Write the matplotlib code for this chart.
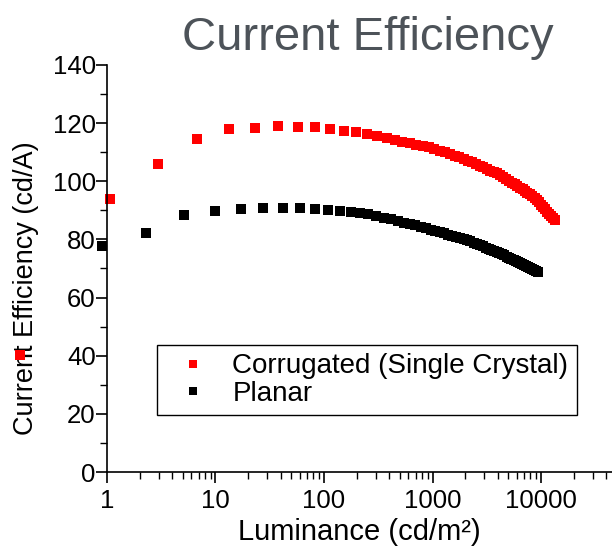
import matplotlib
matplotlib.use('Agg')
import matplotlib.pyplot as plt
from matplotlib.ticker import FixedLocator, FuncFormatter, NullFormatter

plt.rcParams['font.family'] = ['Liberation Sans', 'DejaVu Sans']

# luminance (cd/m2) and current efficiency (cd/A)
corr_lum = [0.158, 1.07, 2.95, 6.7, 13.3, 23, 37.6, 57.5, 82.6, 113, 152, 197, 248, 307, 378, 450,
            527, 614, 709, 812, 923, 1043, 1171, 1307, 1452, 1606, 1769, 1942, 2123, 2313, 2514,
            2725, 2946, 3177, 3417, 3668, 3927, 4198, 4481, 4772, 5077, 5391, 5713, 6048, 6397,
            6752, 7126, 7506, 7891, 8295, 8720, 9142, 9590, 10030, 10490, 10960, 11460, 11960,
            12470, 12990, 13540]
corr_eff = [40.2, 93.9, 105.8, 114.4, 117.9, 118.3, 119.1, 118.7, 118.5, 117.9, 117.4, 116.9, 116.3,
            115.6, 114.8, 114.2, 113.6, 113.1, 112.6, 112.1, 111.7, 111.2, 110.5, 109.9, 109.3,
            108.7, 108.2, 107.7, 107.1, 106.5, 105.9, 105.3, 104.8, 104.2, 103.7, 103.2, 102.7,
            102.2, 101.5, 100.8, 100.2, 99.5, 98.9, 98.3, 97.7, 97.2, 96.6, 96.0, 95.5, 95.0,
            94.3, 93.5, 92.7, 91.9, 91.1, 90.4, 89.6, 88.9, 88.1, 87.4, 86.7]

planar_lum = [0.9, 2.29, 5.15, 9.9, 17.2, 27.5, 42.3, 60, 83, 109, 141, 176, 215, 256, 303, 356,
              414, 476, 544, 617, 696, 780, 869, 963, 1064, 1170, 1281, 1400, 1523, 1651, 1788,
              1931, 2081, 2237, 2394, 2560, 2739, 2917, 3106, 3298, 3496, 3708, 3921, 4136, 4365,
              4603, 4849, 5092, 5342, 5611, 5880, 6163, 6440, 6729, 7033, 7337, 7654, 7978, 8307,
              8663, 8993, 9356]
planar_eff = [77.7, 82.3, 88.4, 89.8, 90.5, 90.9, 90.9, 90.7, 90.5, 90.2, 89.9, 89.5, 89.2, 88.8,
              88.1, 87.5, 86.9, 86.3, 85.8, 85.3, 84.8, 84.3, 83.8, 83.4, 82.9, 82.5, 82.1, 81.6,
              81.2, 80.8, 80.5, 80.1, 79.8, 79.3, 78.9, 78.4, 78.0, 77.6, 77.2, 76.8, 76.4, 76.0,
              75.6, 75.3, 74.9, 74.5, 74.1, 73.7, 73.3, 72.9, 72.6, 72.2, 71.8, 71.5, 71.1, 70.8,
              70.5, 70.1, 69.8, 69.5, 69.2, 68.9]

labels = ['Corrugated (Single Crystal)', 'Planar']
y_ticks = [0, 20, 40, 60, 80, 100, 120, 140]
x_ticks = [1, 10, 100, 1000, 10000]

fig = plt.figure(figsize=(6.12, 5.47), dpi=100)
ax = fig.add_axes([0.1748, 0.1371, 0.8865, 0.7441])

ax.plot(corr_lum, corr_eff, 's', color='#ff0000', ms=7, mew=0, label=labels[0], clip_on=False)
ax.plot(planar_lum, planar_eff, 's', color='black', ms=7, mew=0, label=labels[1], clip_on=False)

ax.set_xscale('log')
ax.set_xlim(1, 1e5)
ax.set_ylim(0, 140)
ax.xaxis.set_major_locator(FixedLocator(x_ticks))
ax.xaxis.set_major_formatter(FuncFormatter(lambda v, p: '%g' % v))
ax.xaxis.set_minor_locator(FixedLocator([m * 10 ** e for e in range(0, 5) for m in range(2, 10)]))
ax.xaxis.set_minor_formatter(NullFormatter())
ax.set_yticks(y_ticks)
ax.set_yticks(range(10, 140, 20), minor=True)

for s in ['top', 'right']:
    ax.spines[s].set_visible(False)
for s in ['left', 'bottom']:
    ax.spines[s].set_linewidth(1.2)
ax.tick_params(which='major', direction='out', length=8, width=1.2, labelsize=18.5)
ax.tick_params(which='minor', direction='out', length=5, width=1.0)
ax.tick_params(axis='y', which='major', pad=0)
ax.tick_params(axis='x', which='major', pad=4)

ax.set_xlabel('Luminance (cd/m²)', fontsize=21)
ax.xaxis.label.set_va('baseline')
ax.xaxis.set_label_coords(0.466, -0.168)
ax.set_ylabel('Current Efficiency (cd/A)', fontsize=19.5)
ax.yaxis.label.set_va('center')
ax.yaxis.set_label_coords(-0.149, 0.451)

leg = ax.legend(loc='lower left', bbox_to_anchor=(0.092, 0.14), borderaxespad=0,
                fontsize=20, frameon=True, fancybox=False, framealpha=1,
                edgecolor='black', handletextpad=0.42, borderpad=0.3, labelspacing=0.05,
                markerscale=0.9)
leg.get_frame().set_linewidth(1.0)

fig.text(0.601, 0.909, 'Current Efficiency', fontsize=34, color='#4d5359',
         ha='center', va='baseline')

plt.savefig('out.png', dpi=100)
